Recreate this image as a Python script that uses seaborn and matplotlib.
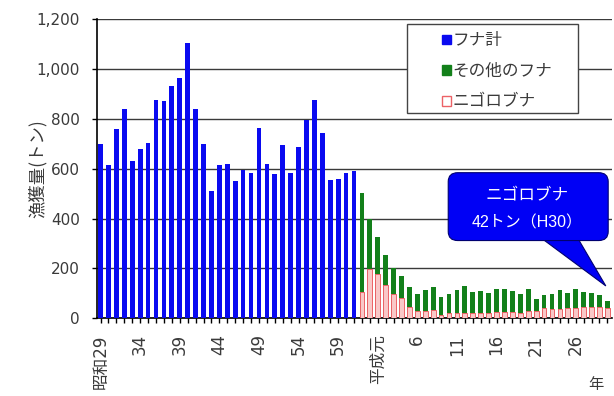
import numpy as np
import pandas as pd
import matplotlib
matplotlib.use("Agg")
import matplotlib.pyplot as plt
import matplotlib.patches as mpatches
import seaborn as sns

# catch of funa (crucian carp) in Lake Biwa, tons
YEARS = list(range(1954, 2019))

# 1954 (S29) - 1986 (S61): total only
FUNA_TOTAL_EARLY = [697, 616, 760, 838, 629, 680, 702, 876, 873, 933,
                    962, 1104, 840, 697, 512, 614, 617, 550, 596, 581,
                    762, 618, 580, 694, 584, 685, 797, 877, 745, 553,
                    557, 584, 592]

# 1987 (S62) - 2018 (H30): total and nigorobuna
FUNA_TOTAL_LATE = [504, 398, 327, 254, 200, 170, 127, 97, 113, 124,
                   84, 96, 113, 129, 104, 110, 102, 117, 119, 108,
                   98, 117, 78, 95, 97, 113, 100, 118, 104, 101,
                   92, 70]
NIGOROBUNA = [104, 196, 176, 135, 97, 80, 44, 28, 28, 32,
              14, 22, 22, 21, 23, 22, 23, 27, 26, 27,
              22, 30, 30, 42, 37, 36, 42, 43, 46, 47,
              46, 42]

TICK_LABELS = ["昭和29", "34", "39", "44", "49", "54", "59",
               "平成元", "6", "11", "16", "21", "26"]

BLUE = "#0a0af0"
GREEN = "#13801a"
PINK_FILL = "#f9c8c8"
PINK_EDGE = "#ec6266"
CALLOUT = "#0000f5"
TEXT = "#3a3a3a"

sns.set_style("white")
plt.rcParams["font.family"] = ["DejaVu Sans", "Noto Sans CJK JP"]
JP = ["Noto Sans CJK JP", "DejaVu Sans"]

n_early = len(FUNA_TOTAL_EARLY)
order = [str(y) for y in YEARS]
df_early = pd.DataFrame({"year": order[:n_early], "catch": FUNA_TOTAL_EARLY})
df_late = pd.DataFrame({"year": order[n_early:],
                        "total": FUNA_TOTAL_LATE,
                        "nigoro": NIGOROBUNA})

fig = plt.figure(figsize=(6.14, 3.96), dpi=100)
ax = fig.add_axes([0.158, 0.196, 0.839, 0.756])

sns.barplot(data=df_early, x="year", y="catch", order=order, color=BLUE,
            saturation=1, width=0.6, errorbar=None, linewidth=0, ax=ax, zorder=3)
sns.barplot(data=df_late, x="year", y="total", order=order, color=GREEN,
            saturation=1, width=0.6, errorbar=None, linewidth=0, ax=ax, zorder=3)
sns.barplot(data=df_late, x="year", y="nigoro", order=order, color=PINK_FILL,
            saturation=1, width=0.6, errorbar=None, linewidth=0.7,
            edgecolor=PINK_EDGE, ax=ax, zorder=4)

ax.set_ylim(0, 1200)
ax.set_xlim(-0.45, len(YEARS) - 0.4)
ax.set_yticks(range(0, 1201, 200))
ax.set_yticklabels([f"{v:,}" for v in range(0, 1201, 200)])
ax.yaxis.grid(True, color="#3a3a3a", linewidth=1.0, zorder=0)
ax.set_axisbelow(True)

ax.set_xticks(range(len(YEARS)))
labels = [""] * len(YEARS)
for i, lab in enumerate(TICK_LABELS):
    labels[i * 5] = lab
ax.set_xticklabels(labels, rotation=90)

ax.tick_params(axis="both", direction="out", length=3.5, width=1,
               color="black", labelcolor=TEXT, left=True, bottom=True)
ax.tick_params(axis="y", labelsize=11, pad=9)
ax.tick_params(axis="x", labelsize=12, pad=8)
for side in ["top", "right"]:
    ax.spines[side].set_visible(False)
for side in ["left", "bottom"]:
    ax.spines[side].set_color("black")
    ax.spines[side].set_linewidth(1.2)

ax.set_xlabel("")
ax.set_ylabel("漁獲量(トン)", color=TEXT, fontsize=12.5, family=JP)
ax.yaxis.set_label_coords(-0.097, 0.5)
fig.text(596 / 614, 1 - 385 / 396, "年", color=TEXT, fontsize=11, family=JP,
         ha="center", va="center")

# legend with its own box
frame = mpatches.Rectangle((0.602, 0.686), 0.332, 0.297, transform=ax.transAxes,
                           facecolor="white", edgecolor="#444444",
                           linewidth=1.0, zorder=6)
ax.add_patch(frame)
handles = [mpatches.Patch(facecolor=BLUE, edgecolor=BLUE, label="フナ計"),
           mpatches.Patch(facecolor=GREEN, edgecolor=GREEN, label="その他のフナ"),
           mpatches.Patch(facecolor="white", edgecolor=PINK_EDGE, label="ニゴロブナ")]
leg = ax.legend(handles=handles, loc="upper left", bbox_to_anchor=(0.654, 0.983),
                frameon=False, prop={"family": JP, "size": 12},
                handlelength=0.5, handleheight=0.5,
                handletextpad=0.1, labelspacing=0.82, borderpad=0)
leg.set_zorder(7)
for t in leg.get_texts():
    t.set_color(TEXT)

# callout for the last nigorobuna value
last_x = len(YEARS) - 1
tip_y = FUNA_TOTAL_LATE[-1] + 60
pointer = mpatches.Polygon([(55.3, 330), (60.1, 330), (last_x - 0.2, tip_y)],
                           closed=True, facecolor=CALLOUT, edgecolor="#000070",
                           linewidth=0.8, zorder=8)
ax.add_patch(pointer)
box = mpatches.FancyBboxPatch((43.9, 312), 20.2, 272,
                              boxstyle="round,pad=0,rounding_size=1.2",
                              mutation_aspect=30,
                              facecolor=CALLOUT, edgecolor="#000070",
                              linewidth=0.8, zorder=9)
ax.add_patch(box)
ax.text(53.9, 493, "ニゴロブナ", color="white", fontsize=12, family=JP,
        ha="center", va="center", zorder=10)
ax.text(53.9, 382, f"{NIGOROBUNA[-1]}トン（H30）", color="white", fontsize=11.5,
        family=["Liberation Sans", "Noto Sans CJK JP"],
        ha="center", va="center", zorder=10)

fig.savefig("out.png", dpi=100)
